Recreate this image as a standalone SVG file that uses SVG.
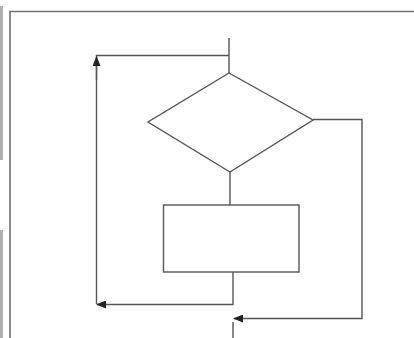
<svg xmlns="http://www.w3.org/2000/svg" width="414" height="338" viewBox="0 0 414 338">
<style>
.ln{fill:none;stroke:#555;stroke-width:1.4}
.shape{fill:#fff;stroke:#555;stroke-width:1.4}
.frame{fill:none;stroke:#707070;stroke-width:1.6}
.edge{fill:none;stroke:#b0b0b0;stroke-width:3}
</style>
<defs>
<marker id="arr" viewBox="0 0 10 8" refX="9" refY="4" markerWidth="10" markerHeight="8" markerUnits="userSpaceOnUse" orient="auto">
<path d="M0,0 L10,4 L0,8 z" fill="#222"/>
</marker>
</defs>
<rect width="414" height="338" fill="#fff"/>
<line class="edge" x1="1.5" y1="6" x2="1.5" y2="160"/>
<line class="edge" x1="1.5" y1="230" x2="1.5" y2="338" stroke="#d0d0d0"/>
<path class="frame" d="M10,338 V11.5 H414"/>
<g id="connectors">
<path class="ln" d="M229,38 V73"/>
<path class="ln" d="M229,55.5 H96.5 V304"/>
<path class="ln" d="M96.5,80 V57" marker-end="url(#arr)"/>
<path class="ln" d="M230,172 V205"/>
<path class="ln" d="M233,272 V304.5 H97" marker-end="url(#arr)"/>
<path class="ln" d="M313,119.5 H362 V318.5 H234" marker-end="url(#arr)"/>
<path class="ln" d="M233,322 V338"/>
</g>
<g id="decision">
<polygon class="shape" points="229,73 313,120 230,172 148,122"/>
</g>
<g id="process">
<rect class="shape" x="163.5" y="205" width="135.5" height="67"/>
</g>
</svg>
